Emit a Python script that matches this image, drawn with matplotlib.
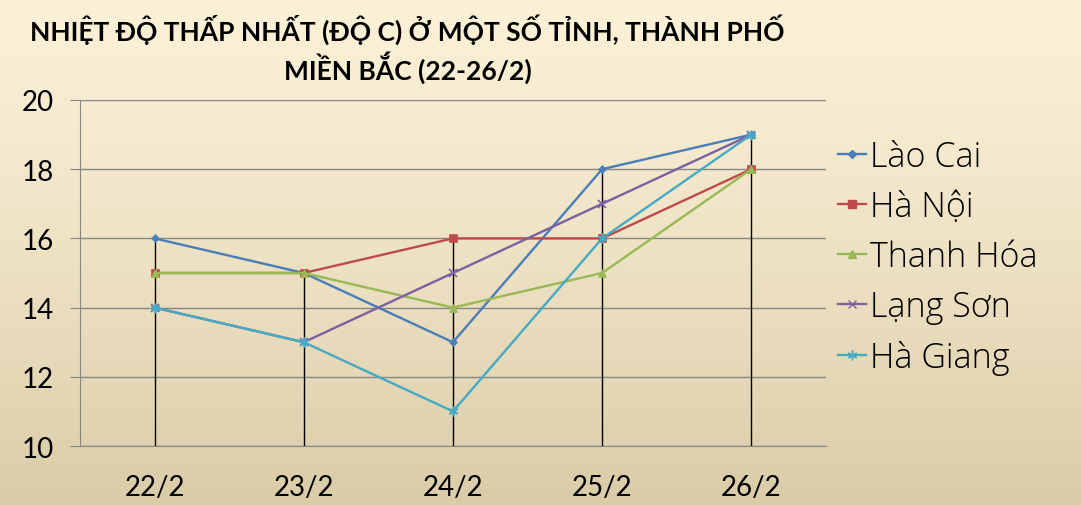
import numpy as np
import matplotlib
matplotlib.use('Agg')
import matplotlib.pyplot as plt
from matplotlib.lines import Line2D

# data
days = ['22/2', '23/2', '24/2', '25/2', '26/2']
lao_cai = [16, 15, 13, 18, 19]
ha_noi = [15, 15, 16, 16, 18]
thanh_hoa = [15, 15, 14, 15, 18]
lang_son = [14, 13, 15, 17, 19]
ha_giang = [14, 13, 11, 16, 19]

names = ['Lào Cai', 'Hà Nội', 'Thanh Hóa', 'Lạng Sơn', 'Hà Giang']
colors = ['#4A7EBB', '#BE4B48', '#98B954', '#7D60A0', '#46AAC5']
markers = ['D', 's', '^', 'x', (6, 2, 0)]
msizes = [4, 6, 6, 6, 7]

title = 'NHIỆT ĐỘ THẤP NHẤT (ĐỘ C) Ở MỘT SỐ TỈNH, THÀNH PHỐ\nMIỀN BẮC (22-26/2)'

fig = plt.figure(figsize=(10.81, 5.06), dpi=100)

# beige gradient background
bg = fig.add_axes([0, 0, 1, 1], zorder=0)
grad = np.linspace(0, 1, 256).reshape(-1, 1)
top = np.array([251, 241, 215]) / 255
bot = np.array([218, 204, 168]) / 255
img = top + (bot - top) * grad[:, :, None] ** 1.3
bg.imshow(img, aspect='auto', extent=[0, 1, 0, 1])
bg.axis('off')

ax = fig.add_axes([0.074, 0.1166, 0.690, 0.6838], zorder=1)
ax.patch.set_alpha(0)
x = np.arange(len(days))
series = [lao_cai, ha_noi, thanh_hoa, lang_son, ha_giang]

# drop lines from highest point down to the axis
tops = np.max(np.array(series), axis=0)
ax.vlines(x, 10, tops, colors='black', linewidth=1, zorder=2)

for vals, c, m, ms in zip(series, colors, markers, msizes):
    ax.plot(x, vals, color=c, marker=m, markersize=ms, linewidth=1.7,
            markeredgewidth=1.2 if m in ('x', (6, 2, 0)) else 0.5, zorder=3)

ax.set_xlim(-0.5, len(days) - 0.5)
ax.set_ylim(10, 20)
ax.set_yticks([10, 12, 14, 16, 18, 20])
ax.set_xticks(x)
ax.set_xticklabels(days)
ax.yaxis.grid(True, color='#868686', linewidth=1)
ax.set_axisbelow(True)
for s in ['top', 'right']:
    ax.spines[s].set_visible(False)
ax.spines['left'].set_color('#868686')
ax.spines['bottom'].set_color('#868686')
ax.tick_params(axis='y', length=7, color='#868686', pad=12, labelsize=20)
ax.tick_params(axis='x', length=0, pad=20, labelsize=20)
for lab in ax.get_xticklabels() + ax.get_yticklabels():
    lab.set_fontfamily('Lato')

fig.text(0.377, 0.903, title, ha='center', va='center', fontsize=19,
         fontweight='bold', family='Lato', linespacing=1.25)

handles = [Line2D([], [], color=c, marker=m, markersize=ms, linewidth=1.7)
           for c, m, ms in zip(colors, markers, msizes)]
leg = fig.legend(handles, names, loc='center left', bbox_to_anchor=(0.763, 0.49),
                 frameon=False, handlelength=0.8, handletextpad=0.12,
                 labelspacing=0.46, borderaxespad=0,
                 prop={'family': 'Open Sans', 'size': 24.5, 'weight': 'light'})

fig.savefig('out.png', dpi=100)
